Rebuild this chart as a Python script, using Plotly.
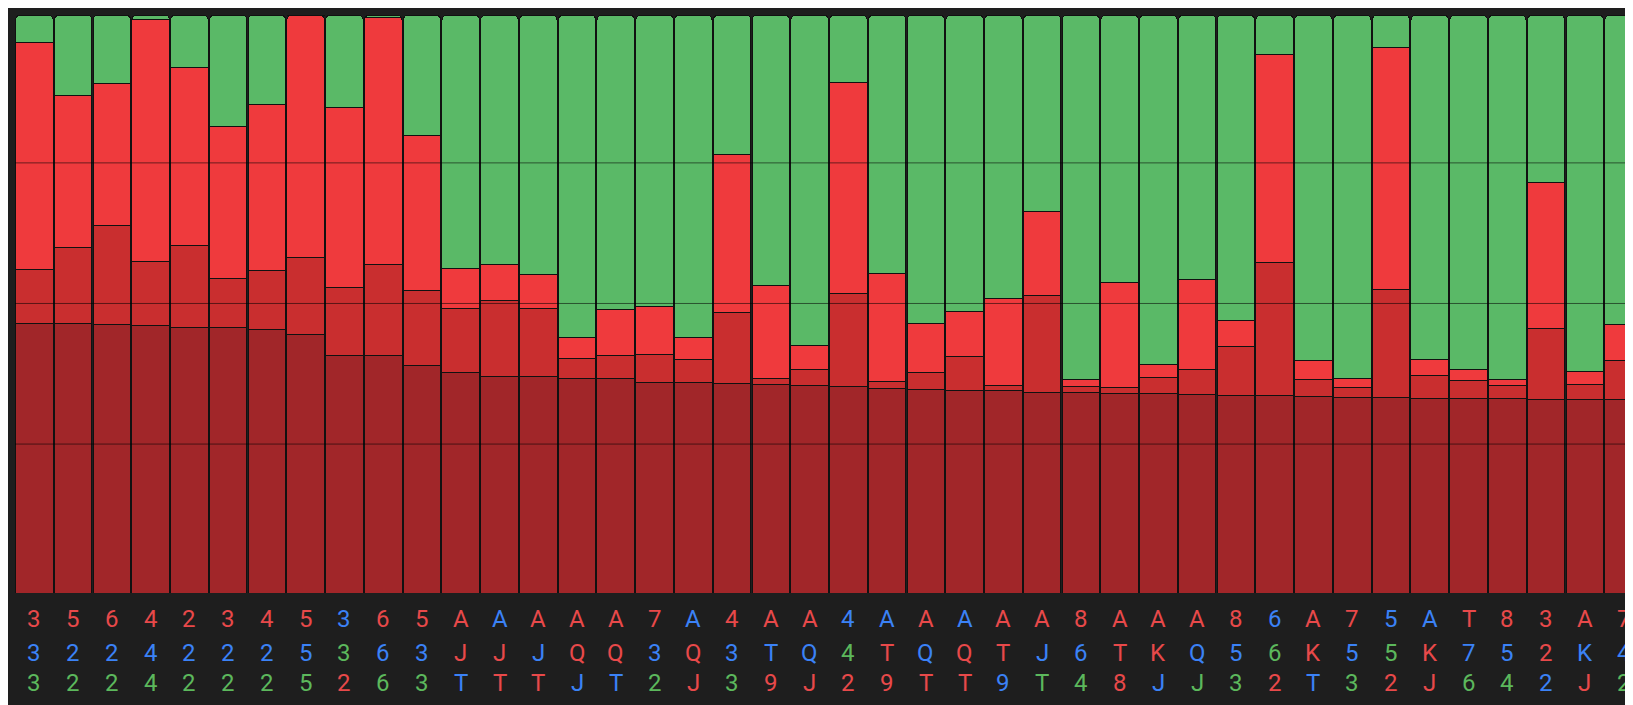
import plotly.graph_objects as go

# boundary heights (pixel rows, plot from 569 bottom to 14 top)
dark_top = [310, 310, 311, 312, 314, 314, 316, 321, 341, 341, 351, 357, 361, 361, 363, 363, 367, 367, 368, 369, 370,
            371, 373, 374, 375, 375, 376, 376, 377, 377, 378, 379, 379, 380, 381, 381, 382, 382, 382, 383, 383, 383]
mid_top = [258, 237, 216, 251, 235, 267, 259, 247, 276, 254, 279, 296, 288, 296, 344, 341, 340, 345, 300, 363, 354,
           281, 366, 357, 342, 370, 283, 371, 372, 362, 354, 332, 252, 364, 372, 278, 360, 365, 370, 315, 369, 346]
red_top = [40, 91, 80, 18, 64, 121, 100, 14, 103, 16, 130, 257, 254, 263, 324, 297, 294, 324, 148, 274, 331,
           79, 262, 310, 299, 286, 203, 364, 271, 350, 268, 307, 52, 346, 363, 45, 345, 354, 364, 175, 356, 311]
grid_rows = [156, 291, 426]

row1 = "3 5 6 4 2 3 4 5 3 6 5 A A A A A 7 A 4 A A 4 A A A A A 8 A A A 8 6 A 7 5 A T 8 3 A 7".split()
row1_c = "r r r r r r r r b r r r b r r r r b r r r b b r b r r r r r r r b r r b b r r r r r".split()
row2 = "3 2 2 4 2 2 2 5 3 6 3 J J J Q Q 3 Q 3 T Q 4 T Q Q T J 6 T K Q 5 6 K 5 5 K 7 5 2 K 4".split()
row2_c = "b b b b b b b b g b b r r b r r b r b b b g r b r r b b r r b b g r b g r b b r b b".split()
row3 = "3 2 2 4 2 2 2 5 2 6 3 T T T J T 2 J 3 9 J 2 9 T T 9 T 4 8 J J 3 2 T 3 2 J 6 4 2 J 2".split()
row3_c = "g g g g g g g g r g g b r r b b g r g r r r r r r b g g r b g g r b g r r g g b r g".split()

suit_colors = {"r": "#E8494A", "b": "#3B82F6", "g": "#5CB85C"}


def share(px_rows):
    return [(569 - p) / 555 for p in px_rows]


d = share(dark_top)
m = share(mid_top)
r = share(red_top)
x = list(range(len(d)))

segments = [
    ("dark", d, "#A12629"),
    ("mid", [b - a for a, b in zip(d, m)], "#C92E2F"),
    ("red", [b - a for a, b in zip(m, r)], "#EF3A3D"),
    ("green", [1 - v for v in r], "#5AB967"),
]

fig = go.Figure()
for name, vals, col in segments:
    fig.add_trace(go.Bar(x=x, y=vals, name=name, marker=dict(color=col, line=dict(color="#111", width=1))))

for y in share(grid_rows):
    fig.add_shape(type="line", xref="paper", yref="y", x0=0, x1=1, y0=y, y1=y,
                  line=dict(color="rgba(0,0,0,0.55)", width=1), layer="above")

for i in x:
    for labels, colors, shift in [(row1, row1_c, -42), (row2, row2_c, -76), (row3, row3_c, -106)]:
        fig.add_annotation(x=i, y=0, xref="x", yref="paper", yshift=shift, text=labels[i], showarrow=False,
                           font=dict(size=24, color=suit_colors[colors[i]], family="Roboto"))

fig.update_layout(
    barmode="stack", bargap=0.03, barcornerradius=5,
    width=1633, height=705,
    margin=dict(l=7, r=0, t=7, b=120),
    paper_bgcolor="#1e1e1e", plot_bgcolor="#1e1e1e",
    showlegend=False,
    xaxis=dict(range=[-0.5, 41.45], showticklabels=False, showgrid=False, zeroline=False),
    yaxis=dict(range=[0, 1], showticklabels=False, showgrid=False, zeroline=False),
)

fig.write_html("out.html")
